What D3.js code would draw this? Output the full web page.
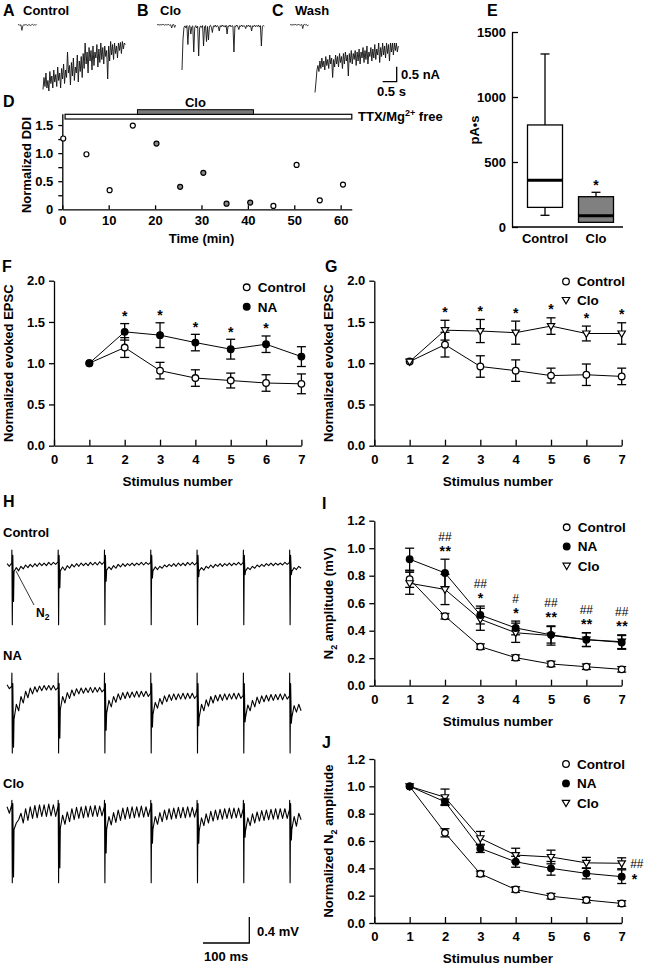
<!DOCTYPE html>
<html><head><meta charset="utf-8">
<script src="https://cdn.jsdelivr.net/npm/d3@7/dist/d3.min.js"></script>
<style>
html,body{margin:0;padding:0;background:#fff;}
svg{font-family:"Liberation Sans",Arial,Helvetica,sans-serif;font-weight:bold;}
</style></head>
<body><svg id="fig" width="646" height="965"></svg>
<script>
// ================= DATA =================
// A-C: membrane current traces (nA), sampled every traceDt seconds
const traceDt = 0.035;
const aBaseline = [0,0.02,-0.02,0.01,-0.18,-0.03,0.02,-0.01,0.02,0,-0.02,0.02,0,-0.02,0.01,0.02,-0.01,0.01,0,0.01];
const aTrace = [-2.15,-1.75,-2.05,-1.6,-2.1,-1.85,-2.2,-1.55,-1.95,-1.7,
 -2.1,-1.5,-1.9,-1.65,-2.05,-1.4,-1.85,-1.6,-2.1,-1.45,
 -1.8,-1.3,-1.95,-1.5,-1.75,-0.9,-1.6,-1.35,-2.0,-1.25,
 -1.7,-1.1,-1.85,-1.4,-1.6,-1.0,-1.9,-1.2,-1.55,-1.05,
 -1.75,-0.95,-1.45,-0.6,-1.3,-0.9,-1.6,-0.75,-1.2,-0.85,
 -1.5,-0.7,-1.35,-0.9,-1.1,-0.65,-1.4,-0.8,-1.25,-0.6,
 -1.15,-0.75,-1.3,-0.7,-1.05,-0.85,-1.8,-0.7,-1.2,-0.55,
 -1.0,-0.65,-1.15,-0.6,-0.95,-0.7,-1.1,-0.6,-0.85,-0.58,
 -0.95,-0.55,-0.8,-0.6,-0.65];
const bBaseline = [0.02,0,0.02,-0.01,0.02,0,0.02,0.01,-0.01,0.02,0,0.01,0.02,-0.02,0.01,-0.1,0.01,0.02,-0.08,0];
const bTrace = [-1.5,-0.5,-0.08,-0.03,-0.1,-0.02,-0.65,-0.05,-0.02,-0.3,
 -0.06,-0.03,-0.9,-0.08,-0.02,-0.1,-0.04,-1.03,-0.1,-0.03,
 -0.08,-0.02,-0.7,-0.06,-0.02,-0.55,-0.05,-0.5,-0.04,-0.01,
 -0.08,-0.25,-0.03,-0.06,0.0,-0.07,-0.02,-0.05,-0.2,-0.02,
 -0.06,0.0,-0.05,-0.02,-0.07,-0.01,-0.3,-0.03,-0.05,0.0,
 -0.06,-0.02,-0.04,-0.9,-0.03,-0.05,0.0,-0.06,-0.15,-0.02,
 -0.05,0.0,-0.06,-0.02,-0.04,-0.12,-0.01,-0.05,0.0,-0.06,
 -0.02,-0.2,-0.03,-0.05,0.0,-0.06,-0.02,-0.05,0.0,-0.07,
 -0.02,-0.7,-0.04,-0.02,-0.05];
const cBaseline = [0,0.02,-0.01,0.02,0,0.01,0.02,-0.01,0.01,0.02,0,-0.01,0.02,-0.12,0.01,0.02,0,0.01,-0.03,0];
const cTrace = [-2.25,-1.9,-1.5,-1.35,-1.55,-1.2,-1.45,-1.1,-1.4,-1.2,
 -1.5,-1.05,-1.35,-1.15,-1.45,-1.0,-1.3,-1.1,-1.75,-1.15,
 -1.4,-1.0,-1.3,-1.05,-1.4,-0.95,-1.25,-1.05,-1.45,-0.95,
 -1.3,-0.9,-1.2,-1.0,-1.7,-0.95,-1.25,-0.85,-1.3,-0.95,
 -1.15,-0.85,-1.35,-0.9,-1.2,-0.8,-1.3,-0.9,-1.1,-0.75,
 -1.25,-0.85,-1.15,-0.7,-1.3,-0.9,-1.05,-0.75,-1.2,-0.8,
 -1.1,-0.65,-1.15,-0.8,-1.0,-0.6,-1.25,-0.75,-1.05,-0.6,
 -1.0,-0.7,-1.1,-0.6,-0.95,-0.65,-1.2,-0.6,-0.9,-0.6,
 -1.0,-0.6,-0.85,-0.6,-0.9,-0.7];

// D: normalized DDI time course
const dTimes = [0.2,5.2,10.2,15.2,20.3,25.4,30.4,35.4,40.5,45.5,50.5,55.5,60.5];
const dValues = [1.26,0.98,0.34,1.49,1.17,0.40,0.65,0.10,0.12,0.06,0.79,0.16,0.44];
const cloPeriod = [16.2, 41.2];
const ttxPeriod = [0.6, 62.4];
const dYTicks = [0,0.25,0.5,0.75,1.0,1.25,1.5];
const dXTicks = [0,10,20,30,40,50,60];

// E: box plot (pA·s)
const eGroups = ["Control","Clo"];
const eLow = [90, 36];
const eQ1 = [151, 36];
const eMedian = [359, 87];
const eQ3 = [785, 233];
const eHigh = [1331, 267];
const eSignif = ["", "*"];
const eYTicks = [0,500,1000,1500];

// F, G, I, J: stimulus trains
const stimulusNumbers = [1,2,3,4,5,6,7];
const stimTicks = [0,1,2,3,4,5,6,7];
const fControl = [1.0,1.19,0.91,0.82,0.79,0.76,0.75];
const fControlSem = [0,0.12,0.1,0.1,0.09,0.1,0.12];
const fNA = [1.0,1.38,1.34,1.25,1.17,1.23,1.08];
const fNASem = [0,0.1,0.15,0.1,0.12,0.1,0.12];
const fStars = ["","*","*","*","*","*",""];

const gControl = [1.02,1.225,0.96,0.91,0.85,0.86,0.84];
const gControlSem = [0,0.15,0.13,0.13,0.09,0.13,0.1];
const gClo = [1.02,1.40,1.39,1.37,1.45,1.36,1.36];
const gCloSem = [0,0.12,0.14,0.14,0.1,0.09,0.13];
const gStars = ["","*","*","*","*","*","*"];
const efscYTicks = [0,0.5,1.0,1.5,2.0];

const iControl = [0.775,0.505,0.284,0.204,0.158,0.138,0.119];
const iControlSem = [0.06,0.02,0.02,0.02,0.02,0.02,0.02];
const iNA = [0.92,0.82,0.514,0.42,0.37,0.335,0.315];
const iNASem = [0.08,0.1,0.065,0.05,0.06,0.05,0.05];
const iClo = [0.745,0.70,0.483,0.385,0.365,0.335,0.32];
const iCloSem = [0.08,0.11,0.08,0.07,0.07,0.05,0.05];
const iHash = ["","##","##","#","##","##","##"];
const iStars = ["","**","*","*","**","**","**"];
const n2YTicks = [0,0.2,0.4,0.6,0.8,1.0,1.2];

const jControl = [1.0,0.66,0.36,0.245,0.196,0.168,0.143];
const jControlSem = [0,0.03,0.02,0.02,0.02,0.02,0.02];
const jNA = [1.0,0.887,0.546,0.448,0.40,0.363,0.339];
const jNASem = [0,0.02,0.03,0.04,0.05,0.04,0.05];
const jClo = [1.0,0.92,0.62,0.497,0.483,0.44,0.437];
const jCloSem = [0,0.06,0.05,0.05,0.05,0.04,0.04];

// H: field potential traces (mV), samples every 5 ms from -10 ms; stimuli every 100 ms
const hSampleStart = -10, hSampleStep = 5;
const hStimTimes = [0,100,200,300,400,500,600];
const hControlTrace = [0.02,-0.02,0.03,
 -0.1,-0.04,-0.09,-0.02,-0.06,0.0,-0.04,0.01,-0.03,0.02,-0.02,0.03,-0.01,0.03,-0.01,0.04,0.0,0.04,0.01, 0.05,
 -0.09,-0.03,-0.08,-0.01,-0.05,0.01,-0.03,0.02,-0.02,0.03,-0.01,0.03,-0.01,0.04,0.0,0.04,0.0,0.05,0.01, 0.05,
 -0.08,-0.03,-0.07,-0.01,-0.05,0.01,-0.03,0.02,-0.02,0.02,-0.01,0.03,-0.01,0.03,0.0,0.04,0.0,0.04,0.01, 0.04,
 -0.09,-0.03,-0.07,-0.02,-0.05,0.0,-0.03,0.01,-0.02,0.02,-0.02,0.03,-0.01,0.03,-0.01,0.04,0.0,0.04,0.0, 0.04,
 -0.09,-0.04,-0.08,-0.02,-0.05,0.0,-0.04,0.01,-0.02,0.02,-0.02,0.02,-0.01,0.03,-0.01,0.03,0.0,0.04,0.0, 0.04,
 -0.09,-0.04,-0.07,-0.02,-0.05,0.0,-0.03,0.01,-0.02,0.02,-0.01,0.03,-0.01,0.03,0.0,0.03,0.0,0.04,0.01, 0.04,
 -0.1,-0.04,-0.07,-0.02,-0.05];
const hNATrace = [0.08,0.02,0.06,
 -0.45,-0.22,-0.32,-0.1,-0.2,-0.02,-0.12,0.03,-0.06,0.05,-0.03,0.06,-0.01,0.07,0.0,0.07,0.0,0.07,0.0, 0.04,
 -0.3,-0.1,-0.2,-0.04,-0.13,0.0,-0.09,0.02,-0.06,0.03,-0.05,0.03,-0.04,0.04,-0.04,0.04,-0.03,0.04,-0.03, 0.01,
 -0.36,-0.16,-0.26,-0.1,-0.19,-0.06,-0.15,-0.04,-0.13,-0.03,-0.12,-0.03,-0.11,-0.02,-0.11,-0.02,-0.1,-0.02,-0.1, -0.05,
 -0.38,-0.19,-0.28,-0.13,-0.22,-0.09,-0.18,-0.07,-0.16,-0.06,-0.15,-0.06,-0.14,-0.05,-0.14,-0.05,-0.13,-0.05,-0.13, -0.08,
 -0.42,-0.22,-0.32,-0.15,-0.25,-0.1,-0.2,-0.08,-0.17,-0.07,-0.16,-0.06,-0.15,-0.06,-0.14,-0.05,-0.14,-0.05,-0.13, -0.08,
 -0.42,-0.23,-0.32,-0.16,-0.26,-0.11,-0.21,-0.09,-0.18,-0.08,-0.17,-0.07,-0.16,-0.07,-0.15,-0.06,-0.15,-0.06,-0.14, -0.09,
 -0.42,-0.24,-0.34,-0.22,-0.32];
const hCloTrace = [0.05,-0.05,0.08,
 -0.3,-0.2,-0.15,-0.05,-0.2,0.02,-0.16,0.05,-0.13,0.07,-0.12,0.08,-0.1,0.08,-0.1,0.09,-0.09,0.08,-0.1, 0.06,
 -0.28,-0.08,-0.22,-0.03,-0.18,0.02,-0.15,0.04,-0.13,0.05,-0.12,0.06,-0.11,0.06,-0.1,0.07,-0.1,0.06,-0.09, 0.05,
 -0.3,-0.1,-0.23,-0.04,-0.19,0.0,-0.16,0.03,-0.14,0.04,-0.13,0.05,-0.12,0.05,-0.11,0.06,-0.11,0.05,-0.1, 0.04,
 -0.3,-0.1,-0.22,-0.04,-0.18,0.0,-0.15,0.02,-0.14,0.03,-0.13,0.04,-0.12,0.04,-0.12,0.05,-0.11,0.04,-0.11, 0.03,
 -0.32,-0.12,-0.24,-0.06,-0.2,-0.02,-0.17,0.0,-0.15,0.01,-0.14,0.02,-0.13,0.03,-0.13,0.03,-0.12,0.03,-0.12, 0.02,
 -0.32,-0.12,-0.24,-0.06,-0.2,-0.03,-0.17,-0.01,-0.16,0.0,-0.15,0.01,-0.14,0.02,-0.14,0.02,-0.13,0.02,-0.13, 0.01,
 -0.3,-0.1,-0.25,-0.05,-0.15];
// stimulus artifact (top, bottom, rebound) and N2 dip per sweep (mV)
const hControlArtifact = [0.23,-0.92,0.15];
const hControlN2 = [-0.56,-0.35,-0.25,-0.2,-0.18,-0.15,-0.15];
const hNAArtifact = [0.26,-0.97,0.1];
const hNAN2 = [-0.88,-0.74,-0.62,-0.57,-0.55,-0.49,-0.51];
const hCloArtifact = [0.15,-1.12,0.1];
const hCloN2 = [-1.03,-0.89,-0.66,-0.51,-0.51,-0.42,-0.46];

// ================= DRAWING =================
const FONT = '"Liberation Sans", Arial, Helvetica, sans-serif';
const svg = d3.select("#fig");

function txt(x, y, s, size, opts = {}) {
  const t = svg.append("text").attr("x", x).attr("y", y).attr("font-size", size).text(s);
  if (opts.anchor) t.attr("text-anchor", opts.anchor);
  if (opts.weight) t.attr("font-weight", opts.weight);
  if (opts.ls) t.attr("letter-spacing", opts.ls);
  return t;
}
function styleAxis(g) {
  g.attr("font-family", FONT).attr("font-size", 13).attr("font-weight", "bold");
  g.selectAll(".domain").attr("stroke", "#000").attr("stroke-width", 1.3);
  g.selectAll(".tick line").attr("stroke", "#000").attr("stroke-width", 1.3);
  g.selectAll(".tick text").attr("fill", "#000");
}
function marker(g, type, cx, cy) {
  if (type === "tri") {
    g.append("path").attr("d", `M${cx-3.7},${cy-2.5}L${cx+3.7},${cy-2.5}L${cx},${cy+3.8}Z`)
      .attr("fill", "#fff").attr("stroke", "#000").attr("stroke-width", 1.2);
  } else {
    g.append("circle").attr("cx", cx).attr("cy", cy).attr("r", 3.3)
      .attr("fill", type === "filled" ? "#000" : "#fff").attr("stroke", "#000").attr("stroke-width", 1.3);
  }
}

// ---------- A, B, C ----------
const topPanels = [
  {label:"A", lx:3, name:"Control", nx:23, x0:18, base:aBaseline, trace:aTrace},
  {label:"B", lx:137, name:"Clo", nx:160, x0:157, base:bBaseline, trace:bTrace},
  {label:"C", lx:272, name:"Wash", nx:295, x0:290, base:cBaseline, trace:cTrace}
];
const topY = d3.scaleLinear().domain([0, 1]).range([25, -5]); // 30 px per nA
topPanels.forEach(p => {
  txt(p.lx, 16, p.label, 16);
  txt(p.nx, 15, p.name, 13);
  const xs = d3.scaleLinear().domain([0, 1]).range([p.x0, p.x0 + 28]);
  const mainStart = 25 / 28;
  svg.append("path").datum(p.base)
    .attr("d", d3.line().x((d, i) => xs(i * traceDt)).y(d => topY(d)))
    .attr("fill", "none").attr("stroke", "#111").attr("stroke-width", 0.8);
  svg.append("path").datum(p.trace)
    .attr("d", d3.line().x((d, i) => xs(mainStart + i * traceDt)).y(d => topY(d)))
    .attr("fill", "none").attr("stroke", "#111").attr("stroke-width", 0.9);
});
// scale bar 0.5 nA / 0.5 s
{
  const sx = 396.7, sy = 81.7;
  svg.append("path").attr("d", `M${sx},${sy - (topY(0) - topY(0.5))}V${sy}H${sx - 0.5 * 28}`)
    .attr("fill", "none").attr("stroke", "#000").attr("stroke-width", 1.3);
  txt(401, 78.5, "0.5 nA", 13);
  txt(377, 96, "0.5 s", 13);
}

// ---------- D ----------
{
  txt(3, 107, "D", 16);
  const x = d3.scaleLinear().domain([0, 62.4]).range([62.3, 351.8]);
  const y = d3.scaleLinear().domain([0, 1.7]).range([209.3, 113.8]);
  const g = svg.append("g");
  g.append("g").attr("transform", "translate(0,209.3)")
    .call(d3.axisBottom(x).tickValues(dXTicks).tickSizeInner(-4).tickSizeOuter(0).tickPadding(6).tickFormat(d3.format("d")))
    .call(styleAxis);
  g.append("g").attr("transform", "translate(62.3,0)")
    .call(d3.axisLeft(y).tickValues(dYTicks).tickSizeInner(4).tickSizeOuter(0).tickPadding(5)
      .tickFormat(v => (v === 0 ? "0" : (Math.round(v * 100) % 50 === 0 ? d3.format(".1f")(v) : ""))))
    .call(styleAxis);
  // bars
  svg.append("rect").attr("x", x(ttxPeriod[0])).attr("y", 114.3).attr("width", x(ttxPeriod[1]) - x(ttxPeriod[0]))
    .attr("height", 4.7).attr("fill", "#fff").attr("stroke", "#000").attr("stroke-width", 1.2);
  svg.append("rect").attr("x", x(cloPeriod[0])).attr("y", 109.7).attr("width", x(cloPeriod[1]) - x(cloPeriod[0]))
    .attr("height", 4.6).attr("fill", "#7a7a7a").attr("stroke", "#000").attr("stroke-width", 1);
  txt((x(cloPeriod[0]) + x(cloPeriod[1])) / 2, 106.5, "Clo", 13, {anchor:"middle"});
  const tt = txt(358, 121, "TTX/Mg", 13);
  tt.append("tspan").attr("dy", -5).attr("font-size", 9).text("2+");
  tt.append("tspan").attr("dy", 5).text(" free");
  // points
  dTimes.forEach((t, i) => {
    const inClo = t >= cloPeriod[0] && t <= cloPeriod[1];
    svg.append("circle").attr("cx", x(t)).attr("cy", y(dValues[i])).attr("r", 2.5)
      .attr("fill", inClo ? "#888" : "#fff").attr("stroke", "#000").attr("stroke-width", 1.2);
  });
  txt(x(30), 243, "Time (min)", 13, {anchor:"middle"});
  svg.append("text").attr("transform", "translate(31,165) rotate(-90)").attr("text-anchor", "middle")
    .attr("font-size", 13).text("Normalized DDI");
}

// ---------- E ----------
{
  txt(487, 16, "E", 16);
  const y = d3.scaleLinear().domain([0, 1500]).range([227, 32]);
  const x = d3.scalePoint().domain(eGroups).range([545, 596]);
  svg.append("g").attr("transform", "translate(512,0)")
    .call(d3.axisLeft(y).tickValues(eYTicks).tickSizeInner(-6).tickSizeOuter(0).tickPadding(6).tickFormat(d3.format("d")))
    .call(styleAxis);
  svg.append("line").attr("x1", 512).attr("x2", 623).attr("y1", 227).attr("y2", 227)
    .attr("stroke", "#000").attr("stroke-width", 1.3);
  const bw = 35;
  eGroups.forEach((grp, i) => {
    const cx = x(grp);
    const g = svg.append("g").attr("stroke", "#000").attr("stroke-width", 1.3);
    if (eHigh[i] > eQ3[i]) {
      g.append("line").attr("x1", cx).attr("x2", cx).attr("y1", y(eQ3[i])).attr("y2", y(eHigh[i]));
      g.append("line").attr("x1", cx - 4.5).attr("x2", cx + 4.5).attr("y1", y(eHigh[i])).attr("y2", y(eHigh[i]));
    }
    if (eLow[i] < eQ1[i]) {
      g.append("line").attr("x1", cx).attr("x2", cx).attr("y1", y(eQ1[i])).attr("y2", y(eLow[i]));
      g.append("line").attr("x1", cx - 4.5).attr("x2", cx + 4.5).attr("y1", y(eLow[i])).attr("y2", y(eLow[i]));
    }
    g.append("rect").attr("x", cx - bw / 2).attr("y", y(eQ3[i])).attr("width", bw)
      .attr("height", y(eQ1[i]) - y(eQ3[i])).attr("fill", i === 0 ? "#fff" : "#808080");
    g.append("line").attr("x1", cx - bw / 2).attr("x2", cx + bw / 2).attr("y1", y(eMedian[i])).attr("y2", y(eMedian[i]))
      .attr("stroke-width", 3);
    if (eSignif[i]) txt(cx, y(eHigh[i]) - 2, eSignif[i], 14, {anchor:"middle"});
    txt(cx, 243, grp, 13, {anchor:"middle"});
  });
  svg.append("text").attr("transform", "translate(479,130) rotate(-90)").attr("text-anchor", "middle")
    .attr("font-size", 13).text("pA•s");
}

// ---------- line-plot helper ----------
function trainPlot(cfg) {
  const x = d3.scaleLinear().domain([0, 7]).range([cfg.x0, cfg.x0 + 247.4]);
  const y = d3.scaleLinear().domain([0, cfg.ymax]).range([cfg.yBottom, cfg.yTop]);
  svg.append("g").attr("transform", `translate(0,${cfg.yBottom})`)
    .call(d3.axisBottom(x).tickValues(stimTicks).tickSizeInner(-6).tickSizeOuter(0).tickPadding(9).tickFormat(d3.format("d")))
    .call(styleAxis);
  svg.append("g").attr("transform", `translate(${cfg.x0},0)`)
    .call(d3.axisLeft(y).tickValues(cfg.yTicks).tickSizeInner(5).tickSizeOuter(0).tickPadding(4).tickFormat(d3.format(".1f")))
    .call(styleAxis);
  const g = svg.append("g");
  const line = d3.line().x((d, i) => x(stimulusNumbers[i])).y(d => y(d));
  cfg.series.forEach(s => {
    g.append("path").datum(s.mean).attr("d", line).attr("fill", "none").attr("stroke", "#000").attr("stroke-width", 1);
  });
  cfg.series.forEach(s => {
    s.mean.forEach((m, i) => {
      if (!s.sem[i]) return;
      const cx = x(stimulusNumbers[i]);
      const eg = g.append("g").attr("stroke", "#000").attr("stroke-width", 1.3);
      eg.append("line").attr("x1", cx).attr("x2", cx).attr("y1", y(m - s.sem[i])).attr("y2", y(m + s.sem[i]));
      [m - s.sem[i], m + s.sem[i]].forEach(v =>
        eg.append("line").attr("x1", cx - 4.5).attr("x2", cx + 4.5).attr("y1", y(v)).attr("y2", y(v)));
    });
  });
  cfg.series.forEach(s => {
    s.mean.forEach((m, i) => marker(g, s.marker, x(stimulusNumbers[i]), y(m)));
  });
  // legend
  cfg.legend.forEach((l, k) => {
    marker(svg, l.marker, cfg.legX, cfg.legY + k * cfg.legDy);
    txt(cfg.legX + 11, cfg.legY + k * cfg.legDy + 4.8, l.label, 13.5);
  });
  txt(x(3.5), cfg.yBottom + 40, "Stimulus number", 13.5, {anchor:"middle"});
  const yt = svg.append("text").attr("transform", `translate(${cfg.titleX},${(cfg.yBottom + cfg.yTop) / 2}) rotate(-90)`)
    .attr("text-anchor", "middle").attr("font-size", 13);
  cfg.title(yt);
  return {x, y};
}

// ---------- F ----------
{
  txt(2, 272, "F", 16);
  const {x, y} = trainPlot({x0:54, yBottom:445.7, yTop:280.7, ymax:2, yTicks:efscYTicks,
    series:[{mean:fControl, sem:fControlSem, marker:"open"}, {mean:fNA, sem:fNASem, marker:"filled"}],
    legend:[{label:"Control", marker:"open"}, {label:"NA", marker:"filled"}],
    legX:246.7, legY:287.3, legDy:19.4, titleX:13,
    title: t => t.text("Normalized evoked EPSC")});
  fStars.forEach((s, i) => {
    if (!s) return;
    const top = Math.max(fNA[i] + fNASem[i], fControl[i] + fControlSem[i]);
    txt(x(stimulusNumbers[i]), y(top) - 2.5, s, 14, {anchor:"middle"});
  });
}

// ---------- G ----------
{
  txt(325, 272, "G", 16);
  const {x, y} = trainPlot({x0:374.3, yBottom:445.7, yTop:280.7, ymax:2, yTicks:efscYTicks,
    series:[{mean:gControl, sem:gControlSem, marker:"open"}, {mean:gClo, sem:gCloSem, marker:"tri"}],
    legend:[{label:"Control", marker:"open"}, {label:"Clo", marker:"tri"}],
    legX:566, legY:281.5, legDy:18.5, titleX:333,
    title: t => t.text("Normalized evoked EPSC")});
  gStars.forEach((s, i) => {
    if (!s) return;
    const top = Math.max(gClo[i] + gCloSem[i], gControl[i] + gControlSem[i]);
    txt(x(stimulusNumbers[i]), y(top) - 3.5, s, 14, {anchor:"middle"});
  });
}

// ---------- I ----------
{
  txt(322, 509, "I", 16);
  const {x, y} = trainPlot({x0:374.3, yBottom:685.7, yTop:520.7, ymax:1.2, yTicks:n2YTicks,
    series:[{mean:iControl, sem:iControlSem, marker:"open"}, {mean:iClo, sem:iCloSem, marker:"tri"},
            {mean:iNA, sem:iNASem, marker:"filled"}],
    legend:[{label:"Control", marker:"open"}, {label:"NA", marker:"filled"}, {label:"Clo", marker:"tri"}],
    legX:566.7, legY:527.3, legDy:19.2, titleX:333,
    title: t => { t.text("N"); t.append("tspan").attr("dy", 4).attr("font-size", 9).text("2");
                  t.append("tspan").attr("dy", -4).text(" amplitude (mV)"); }});
  stimulusNumbers.forEach((n, i) => {
    const top = Math.max(iControl[i] + iControlSem[i], iNA[i] + iNASem[i], iClo[i] + iCloSem[i]);
    if (iStars[i]) txt(x(n) + 0.5, y(top) - 3.5, iStars[i], 14, {anchor:"middle", ls:0.5});
    if (iHash[i]) txt(x(n), y(top) - 18.5, iHash[i], 12, {anchor:"middle", weight:"normal"});
  });
}

// ---------- J ----------
{
  txt(322, 748, "J", 16);
  const {x, y} = trainPlot({x0:374.3, yBottom:923, yTop:759, ymax:1.2, yTicks:n2YTicks,
    series:[{mean:jControl, sem:jControlSem, marker:"open"}, {mean:jClo, sem:jCloSem, marker:"tri"},
            {mean:jNA, sem:jNASem, marker:"filled"}],
    legend:[{label:"Control", marker:"open"}, {label:"NA", marker:"filled"}, {label:"Clo", marker:"tri"}],
    legX:566, legY:764, legDy:19.4, titleX:333,
    title: t => { t.text("Normalized N"); t.append("tspan").attr("dy", 4).attr("font-size", 9).text("2");
                  t.append("tspan").attr("dy", -4).text(" amplitude"); }});
  txt(x(7) + 8.5, y(jClo[6]) + 4.5, "##", 12, {weight:"normal"});
  txt(x(7) + 10, y(jNA[6]) + 7, "*", 14);
}

// ---------- H ----------
{
  txt(3, 507, "H", 16);
  const hx = d3.scaleLinear().domain([0, 100]).range([11.7, 58.0]);
  const hTraces = [
    {name:"Control", ly:537, y0:565, data:hControlTrace, art:hControlArtifact, n2:hControlN2},
    {name:"NA", ly:660, y0:690, data:hNATrace, art:hNAArtifact, n2:hNAN2},
    {name:"Clo", ly:788, y0:810, data:hCloTrace, art:hCloArtifact, n2:hCloN2}
  ];
  hTraces.forEach(tr => {
    txt(3, tr.ly, tr.name, 13);
    const hy = d3.scaleLinear().domain([0, 1]).range([tr.y0, tr.y0 - 65]);
    const pts = [];
    tr.data.forEach((v, i) => {
      const t = hSampleStart + i * hSampleStep;
      pts.push([t, v]);
      const k = hStimTimes.indexOf(t);
      if (k >= 0) {
        pts.push([t + 0.4, tr.art[0]], [t + 1.3, tr.art[1]], [t + 2.4, tr.art[2]], [t + 4.0, tr.n2[k]]);
      }
    });
    svg.append("path").datum(pts)
      .attr("d", d3.line().x(d => hx(d[0])).y(d => hy(d[1])))
      .attr("fill", "none").attr("stroke", "#000").attr("stroke-width", 1.1).attr("stroke-linejoin", "round");
  });
  // N2 label
  svg.append("line").attr("x1", 16).attr("y1", 571).attr("x2", 34).attr("y2", 605)
    .attr("stroke", "#000").attr("stroke-width", 0.8);
  const n2 = txt(36, 617, "N", 12);
  n2.append("tspan").attr("dy", 3).attr("font-size", 8.5).text("2");
  // scale bar: 0.4 mV, 100 ms
  const bx = 249.3, by = 943;
  svg.append("path").attr("d", `M${bx},${by - 0.4 * 65}V${by}H${bx - (hx(100) - hx(0))}`)
    .attr("fill", "none").attr("stroke", "#000").attr("stroke-width", 1.3);
  txt(257, 935.5, "0.4 mV", 13);
  txt(bx - (hx(100) - hx(0)) / 2, 961, "100 ms", 13, {anchor:"middle"});
}
</script></body></html>
